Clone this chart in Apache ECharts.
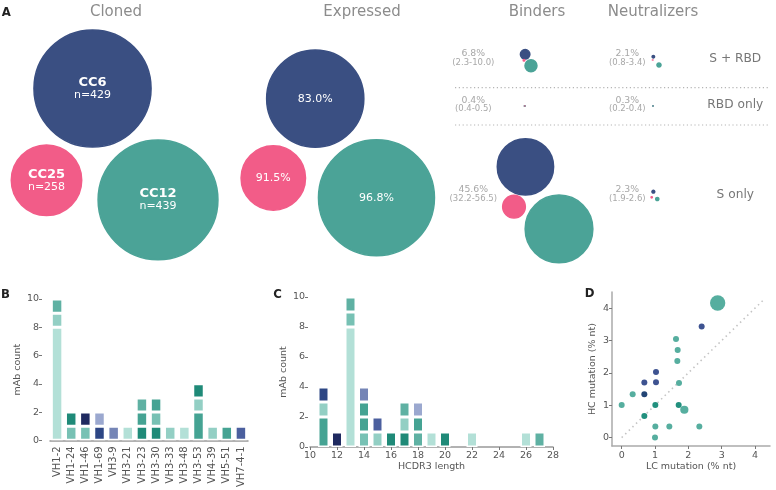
<!DOCTYPE html>
<html><head><meta charset="utf-8">
<script src="https://cdn.jsdelivr.net/npm/echarts@6/dist/echarts.min.js"></script>
<style>html,body{margin:0;padding:0;background:#fff}#chart{width:776px;height:490px}</style>
</head><body><div id="chart"></div>
<script>
// ---------------- data ----------------
const donors = ['CC6', 'CC25', 'CC12'];
const clonedCounts = [429, 258, 439];
const expressedPct = [83.0, 91.5, 96.8];
const specificities = ['S + RBD', 'RBD only', 'S only'];
const binderPctSRBD = [8.1, 2.3, 10.0];
const binderPctRBD = [0.4, 0.4, 0.5];
const binderPctS = [48.1, 32.2, 56.5];
const neutPctSRBD = [2.1, 0.8, 3.4];
const neutPctRBD = [0.3, 0.2, 0.4];
const neutPctS = [2.4, 1.9, 2.6];

const vhGenes = ['VH1-2','VH1-24','VH1-46','VH1-69','VH3-9','VH3-21','VH3-23','VH3-30','VH3-33','VH3-48','VH3-53','VH4-39','VH5-51','VH7-4-1'];
const vhCounts = [[8,1,1],[1,1],[1,1],[1,1],[1],[1],[1,1,1],[1,1,1],[1],[1],[2,1,1],[1],[1],[1]];
const vhGroups = [[0,1,3],[2,5],[2,7],[6,8],[9],[0],[5,4,3],[5,2,4],[1],[0],[4,1,5],[1],[4],[10]];

const cdr3Lengths = [11,12,13,14,15,16,17,18,19,20,22,26,27];
const cdr3Counts = [[2,1,1],[1],[8,1,1],[1,1,1,1],[1,1],[1],[1,1,1],[1,1,1],[1],[1],[1],[1],[1]];
const cdr3Groups = [[4,1,6],[7],[0,2,3],[2,4,4,9],[1,10],[5],[5,1,3],[3,4,8],[0],[5],[0],[0],[3]];
const cdr3AxisRange = [10, 28];

const lcMutation = [2.88,2.40,1.63,1.68,1.67,1.03,0.68,1.03,1.72,0.33,0.68,0.00,1.01,1.71,1.88,0.68,1.01,1.43,2.33,1.00];
const hcMutation = [4.16,3.43,3.05,2.71,2.37,2.03,1.70,1.71,1.69,1.34,1.34,1.01,1.01,1.01,0.86,0.67,0.34,0.34,0.34,0.00];
const mutCounts  = [8,1,1,1,1,1,1,1,1,1,1,1,1,1,2,1,1,1,1,1];
const mutGroups  = [0,1,0,0,0,1,1,1,0,0,2,0,3,3,0,3,0,0,0,0];
const mutTicks = [0,1,2,3,4];
const identityExtent = [0, 4.25];

// ---------------- styles / layout ----------------
const FONT = '"DejaVu Sans", sans-serif';
const LETTER_FONT = '"Liberation Sans Narrow", "DejaVu Sans Condensed", "Liberation Sans", sans-serif';
const donorColors = ['#3a4f82', '#f25c88', '#4ba397'];
const segPalette = ['#b3e0d7','#93cfc4','#77c1b4','#5fb1a3','#45a393','#1f8a78','#2d4684','#1f2a60','#9ba8cf','#7585b6','#4b5f9e'];
const mutPalette = ['#56ae9f','#3e5391','#234575','#22907e'];
const K = 0.1365, EDGE = 0.75;

function pack3(counts, L) {
  const r = counts.map(c => K * c + EDGE);
  const [rA, rB, rC] = r;
  const dAB = Math.max(rA + rB + L.gaps[0], 0.01), dAC = Math.max(rA + rC + L.gaps[1], 0.01), dBC = Math.max(rB + rC + L.gaps[2], 0.01);
  const t = L.tilt * Math.PI / 180;
  const B = L.anchor;
  const C = [B[0] + dBC * Math.cos(t), B[1] + dBC * Math.sin(t)];
  let ca = (dAB * dAB + dBC * dBC - dAC * dAC) / (2 * dAB * dBC);
  ca = Math.max(-1, Math.min(1, ca));
  const a = Math.acos(ca);
  const A = [B[0] + dAB * Math.cos(t - a), B[1] + dAB * Math.sin(t - a)];
  return [A, B, C];
}
const ofCloned = pct => clonedCounts.map((c, i) => c * pct[i] / 100);
const groups = [
  {counts: clonedCounts, layout: {anchor: [46.5, 180.2], tilt: 10.0, gaps: [7.3, 9.2, 16.6]}, kind: 'cloned'},
  {counts: ofCloned(expressedPct), layout: {anchor: [273.3, 178], tilt: 10.8, gaps: [7.4, 8.3, 13.3]}, kind: 'expressed'},
  {counts: ofCloned(binderPctSRBD), layout: {anchor: [524, 60.3], tilt: 37.6, gaps: [-1, 0.5, 0.5]}},
  {counts: ofCloned(binderPctRBD), layout: {anchor: [524.7, 106], tilt: 30, gaps: [-1.9, -2, -1.9]}},
  {counts: ofCloned(binderPctS), layout: {anchor: [514, 206.7], tilt: 26.3, gaps: [0.5, 7.1, 3.5]}},
  {counts: ofCloned(neutPctSRBD), layout: {anchor: [652.7, 60], tilt: 38.4, gaps: [0.4, 5.3, 4.2]}},
  {counts: ofCloned(neutPctRBD), layout: {anchor: [653, 106], tilt: 30, gaps: [-1.9, -2, -1.9]}},
  {counts: ofCloned(neutPctS), layout: {anchor: [651.7, 197.3], tilt: 16.9, gaps: [2.25, 3.8, 2.1]}}
];
groups.forEach(g => { g.centers = pack3(g.counts, g.layout); });

const bubbleSeries = [0, 2, 1].map(d => ({
  type: 'scatter', xAxisIndex: 0, yAxisIndex: 0, silent: true,
  itemStyle: {color: donorColors[d], borderColor: donorColors[d], borderWidth: 1.5, opacity: 1},
  data: groups.map(g => {
    const item = {value: g.centers[d], symbolSize: 2 * K * g.counts[d]};
    if (g.kind === 'cloned') {
      item.label = {show: true, position: 'inside', formatter: '{a|' + donors[d] + '}\n{b|n=' + clonedCounts[d] + '}',
        rich: {a: {fontFamily: FONT, fontWeight: 'bold', fontSize: 13, color: '#fff', lineHeight: 13, align: 'center'},
               b: {fontFamily: FONT, fontSize: 11, color: '#fff', lineHeight: 12, align: 'center'}}};
    } else if (g.kind === 'expressed') {
      item.label = {show: true, position: 'inside', formatter: expressedPct[d].toFixed(1) + '%', fontFamily: FONT, fontSize: 11, color: '#fff'};
    }
    return item;
  })
}));

// stacked bars
function levelsOf(arr) { return Math.max(...arr.map(s => s.length)); }
const vhSeries = [];
for (let L = 0; L < levelsOf(vhCounts); L++) {
  vhSeries.push({type: 'bar', xAxisIndex: 1, yAxisIndex: 1, stack: 'vh', barWidth: 11.5, silent: true,
    itemStyle: {borderColor: '#fff', borderWidth: 1.5},
    data: vhCounts.map((s, i) => s[L] != null ? {value: s[L], itemStyle: {color: segPalette[vhGroups[i][L]]}} : '-')});
}
const cdr3Axis = [];
for (let v = cdr3AxisRange[0]; v <= cdr3AxisRange[1]; v++) cdr3Axis.push(String(v));
const cdrSeries = [];
for (let L = 0; L < levelsOf(cdr3Counts); L++) {
  cdrSeries.push({type: 'bar', xAxisIndex: 2, yAxisIndex: 2, stack: 'cdr3', barWidth: 11, silent: true,
    itemStyle: {borderColor: '#fff', borderWidth: 1.5},
    data: cdr3Axis.map(c => {
      const i = cdr3Lengths.indexOf(Number(c));
      if (i < 0 || cdr3Counts[i][L] == null) return '-';
      return {value: cdr3Counts[i][L], itemStyle: {color: segPalette[cdr3Groups[i][L]]}};
    })});
}

const tickLabel = {fontFamily: FONT, fontSize: 9.5, color: '#555'};
const nameStyle = {fontFamily: FONT, fontSize: 9.5, color: '#555'};

// text elements
const gText = (x, y, text, size, color, extra) => Object.assign({type: 'text', x: x, y: y, silent: true,
  style: Object.assign({text: text, fontFamily: FONT, fontSize: size, fill: color, align: 'center', verticalAlign: 'middle', textAlign: 'center', textVerticalAlign: 'middle'}, extra || {})});
const fmt = v => v.toFixed(1);
const mean = a => a.reduce((s, v) => s + v, 0) / a.length;
const rowY = [58.5, 105.2, 194.4];
const binderSets = [binderPctSRBD, binderPctRBD, binderPctS];
const neutSets = [neutPctSRBD, neutPctRBD, neutPctS];
const graphics = [
  gText(116, 12, 'Cloned', 15, '#8c8c8c'),
  gText(362, 12, 'Expressed', 15, '#8c8c8c'),
  gText(537, 12, 'Binders', 15, '#8c8c8c'),
  gText(653, 12, 'Neutralizers', 15, '#8c8c8c'),
  gText(6.3, 12.8, 'A', 13, '#222', {fontFamily: LETTER_FONT, fontWeight: 'bold'}),
  gText(5.5, 295, 'B', 13, '#222', {fontFamily: LETTER_FONT, fontWeight: 'bold'}),
  gText(277.5, 295, 'C', 13, '#222', {fontFamily: LETTER_FONT, fontWeight: 'bold'}),
  gText(589.5, 294, 'D', 13, '#222', {fontFamily: LETTER_FONT, fontWeight: 'bold'}),
  {type: 'line', silent: true, shape: {x1: 455, y1: 87.7, x2: 768, y2: 87.7}, style: {stroke: '#b5b5b5', lineWidth: 1.2, lineDash: [1.2, 2.6]}},
  {type: 'line', silent: true, shape: {x1: 455, y1: 125, x2: 768, y2: 125}, style: {stroke: '#b5b5b5', lineWidth: 1.2, lineDash: [1.2, 2.6]}}
];
specificities.forEach((s, i) => {
  graphics.push(gText(735.3, rowY[i], s, 12.2, '#777'));
  const b = binderSets[i], n = neutSets[i];
  graphics.push(gText(473.3, rowY[i] - 4.5, fmt(mean(b)) + '%', 9.3, '#a8a8a8'));
  graphics.push(gText(473.3, rowY[i] + 4, '(' + fmt(Math.min(...b)) + '-' + fmt(Math.max(...b)) + ')', 8.5, '#a8a8a8'));
  graphics.push(gText(627.3, rowY[i] - 4.5, fmt(mean(n)) + '%', 9.3, '#a8a8a8'));
  graphics.push(gText(627.3, rowY[i] + 4, '(' + fmt(Math.min(...n)) + '-' + fmt(Math.max(...n)) + ')', 8.5, '#a8a8a8'));
});

const option = {
  animation: false,
  backgroundColor: '#fff',
  textStyle: {fontFamily: FONT},
  grid: [
    {left: 0, top: 0, width: 776, height: 490},
    {left: 50, top: 299, width: 198, height: 147},
    {left: 310, top: 297, width: 243, height: 150},
    {left: 612, top: 292, width: 158, height: 154}
  ],
  xAxis: [
    {gridIndex: 0, type: 'value', min: 0, max: 776, show: false},
    {gridIndex: 1, type: 'category', data: vhGenes,
      axisLine: {lineStyle: {color: '#999', width: 1.5}},
      axisTick: {alignWithLabel: true, length: 3, lineStyle: {color: '#777'}},
      axisLabel: Object.assign({rotate: 90, margin: 6, interval: 0}, tickLabel, {fontSize: 10})},
    {gridIndex: 2, type: 'category', data: cdr3Axis, boundaryGap: false,
      name: 'HCDR3 length', nameLocation: 'middle', nameGap: 15, nameTextStyle: nameStyle,
      axisLine: {show: true, lineStyle: {color: '#999', width: 1.5}},
      axisTick: {show: true, length: 3, interval: 1, lineStyle: {color: '#777'}},
      axisLabel: Object.assign({margin: 4, interval: 1}, tickLabel)},
    {gridIndex: 3, type: 'value', min: -0.29, max: 4.45, splitLine: {show: false},
      name: 'LC mutation (% nt)', nameLocation: 'middle', nameGap: 16, nameTextStyle: nameStyle,
      axisLine: {show: true, onZero: false, lineStyle: {color: '#aaa', width: 1.5}},
      axisTick: {show: true, length: 3, customValues: mutTicks, lineStyle: {color: '#777'}},
      axisLabel: Object.assign({margin: 5, customValues: mutTicks}, tickLabel)}
  ],
  yAxis: [
    {gridIndex: 0, type: 'value', min: 0, max: 490, inverse: true, show: false},
    {gridIndex: 1, type: 'value', min: 0, max: 10, interval: 2, offset: 8, splitLine: {show: false},
      name: 'mAb count', nameLocation: 'middle', nameGap: 17, nameTextStyle: nameStyle,
      axisLine: {show: false}, axisTick: {show: true, length: 3, lineStyle: {color: '#777'}},
      axisLabel: Object.assign({margin: 3}, tickLabel)},
    {gridIndex: 2, type: 'value', min: 0, max: 10, interval: 2, offset: 2, splitLine: {show: false},
      name: 'mAb count', nameLocation: 'middle', nameGap: 17, nameTextStyle: nameStyle,
      axisLine: {show: false}, axisTick: {show: true, length: 3, lineStyle: {color: '#777'}},
      axisLabel: Object.assign({margin: 3}, tickLabel)},
    {gridIndex: 3, type: 'value', min: -0.26, max: 4.5, splitLine: {show: false},
      name: 'HC mutation (% nt)', nameLocation: 'middle', nameGap: 14, nameTextStyle: nameStyle,
      axisLine: {show: true, onZero: false, lineStyle: {color: '#aaa', width: 1.5}},
      axisTick: {show: true, length: 3, customValues: mutTicks, lineStyle: {color: '#777'}},
      axisLabel: Object.assign({margin: 3, customValues: mutTicks}, tickLabel)}
  ],
  graphic: {elements: graphics},
  series: [].concat(bubbleSeries, vhSeries, cdrSeries, [
    {type: 'line', xAxisIndex: 3, yAxisIndex: 3, silent: true, symbol: 'none', z: 1,
      lineStyle: {color: '#c4c4c4', width: 1.6, type: [1.5, 3.5]},
      data: [[identityExtent[0], identityExtent[0]], [identityExtent[1], identityExtent[1]]]},
    {type: 'scatter', xAxisIndex: 3, yAxisIndex: 3, silent: true, z: 3,
      data: lcMutation.map((x, i) => ({value: [x, hcMutation[i]], symbolSize: 6 * Math.pow(mutCounts[i], 0.45),
        itemStyle: {color: mutPalette[mutGroups[i]], opacity: 1}}))}
  ])
};
const chart = echarts.init(document.getElementById('chart'), null, {renderer: 'canvas'});
chart.setOption(option);
</script></body></html>
